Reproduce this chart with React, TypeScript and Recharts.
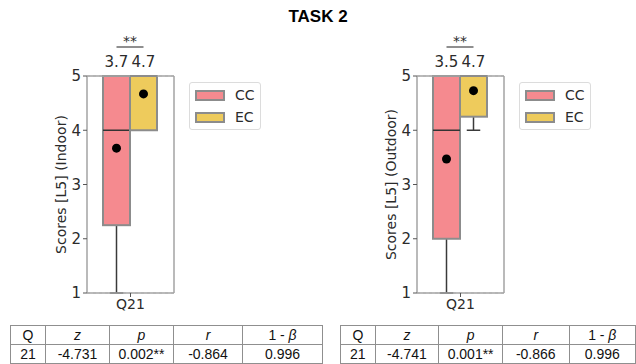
import { ComposedChart, Bar, XAxis, YAxis, CartesianGrid, Legend, LabelList } from 'recharts';

const groups = ['CC', 'EC'];
const groupColors = ['#f58a8f', '#eecb5c'];
const yTicks = [1, 2, 3, 4, 5];
const questionLabel = 'Q21';

// indoor (left panel)
const indoorMin = [1, 4];
const indoorQ1 = [2.25, 4];
const indoorMedian = [4, 5];
const indoorQ3 = [5, 5];
const indoorMax = [5, 5];
const indoorMean = [3.67, 4.67];
const indoorMeanLabels = ['3.7', '4.7'];

// outdoor (right panel)
const outdoorMin = [1, 4];
const outdoorQ1 = [2, 4.25];
const outdoorMedian = [4, 5];
const outdoorQ3 = [5, 5];
const outdoorMax = [5, 5];
const outdoorMean = [3.47, 4.73];
const outdoorMeanLabels = ['3.5', '4.7'];

const tableHeaders = ['Q', 'z', 'p', 'r', '1 - β'];
const indoorStats = ['21', '-4.731', '0.002**', '-0.864', '0.996'];
const outdoorStats = ['21', '-4.741', '0.001**', '-0.866', '0.996'];

const FONT = '"DejaVu Sans", sans-serif';
const TEXT = '#2b2b2b';
const SPINE = '#a3a3a3';

const buildRows = (mins: number[], q1s: number[], meds: number[], q3s: number[], maxs: number[], means: number[], labels: string[]) =>
  groups.map((g, i) => ({
    group: g,
    color: groupColors[i],
    min: mins[i],
    q1: q1s[i],
    median: meds[i],
    q3: q3s[i],
    max: maxs[i],
    mean: means[i],
    meanLabel: labels[i],
  }));

const indoorRows = buildRows(indoorMin, indoorQ1, indoorMedian, indoorQ3, indoorMax, indoorMean, indoorMeanLabels);
const outdoorRows = buildRows(outdoorMin, outdoorQ1, outdoorMedian, outdoorQ3, outdoorMax, outdoorMean, outdoorMeanLabels);

const BoxShape = (props: any) => {
  const { x, y, width, height, payload, index, significance } = props;
  const span = payload.max - payload.min;
  const py = (v: number) => y + (height * (payload.max - v)) / span;
  const cx = x + width / 2;
  const boxTop = py(payload.q3);
  const boxBottom = py(payload.q1);
  return (
    <g>
      <line x1={cx} x2={cx} y1={boxBottom} y2={py(payload.min)} stroke="#3a3a3a" strokeWidth={1.5} />
      <line x1={cx - width / 4} x2={cx + width / 4} y1={py(payload.min)} y2={py(payload.min)} stroke="#3a3a3a" strokeWidth={1.5} />
      <rect x={x} y={boxTop} width={width} height={boxBottom - boxTop} fill={payload.color} stroke="#8c8c8c" strokeWidth={2} />
      <line x1={x} x2={x + width} y1={py(payload.median)} y2={py(payload.median)} stroke="#333" strokeWidth={1.5} />
      <circle cx={cx} cy={py(payload.mean)} r={4.5} fill="#000" />
      {index === 0 && (
        <g>
          <line x1={cx} x2={cx + width} y1={y - 29} y2={y - 29} stroke="#444" strokeWidth={1.2} />
          <text x={cx + width / 2} y={y - 30} textAnchor="middle" fontSize={14} fontFamily={FONT} fill={TEXT}>
            {significance}
          </text>
        </g>
      )}
    </g>
  );
};

// x tick mark + label in the middle of the axis (one question per panel)
const QuestionTick = (props: any) => {
  const { x, y, width } = props.viewBox;
  const cx = x + width / 2;
  return (
    <g>
      <line x1={cx} x2={cx} y1={y} y2={y + 4} stroke="#555" strokeWidth={1} />
      <text x={cx} y={y + 16} textAnchor="middle" fontSize={14} fontFamily={FONT} fill={TEXT}>
        {questionLabel}
      </text>
    </g>
  );
};

const LegendBox = () => (
  <div
    style={{
      border: '1px solid #dcdcdc',
      borderRadius: 3,
      background: '#fff',
      padding: '1px 5px',
      fontFamily: FONT,
      fontSize: 14,
      color: TEXT,
    }}
  >
    {groups.map((g, i) => (
      <div key={g} style={{ display: 'flex', alignItems: 'center', height: 22 }}>
        <span
          style={{
            display: 'inline-block',
            boxSizing: 'border-box',
            width: 30,
            height: 11,
            background: groupColors[i],
            border: '2px solid #8c8c8c',
          }}
        />
        <span style={{ marginLeft: 10 }}>{g}</span>
      </div>
    ))}
  </div>
);

const Panel = ({ rows, yLabel, significance }: { rows: any[]; yLabel: string; significance: string }) => (
  <ComposedChart
    width={300}
    height={312}
    data={rows}
    barCategoryGap={0}
    margin={{ top: 75, right: 125, bottom: 0, left: 0 }}
  >
    <CartesianGrid horizontal vertical={false} stroke="#cfcfcf" strokeDasharray="3 3" />
    <XAxis
      xAxisId="g"
      dataKey="group"
      type="category"
      padding={{ left: 16, right: 17 }}
      height={19}
      tick={false}
      tickLine={false}
      stroke={SPINE}
      axisLine={{ stroke: SPINE, strokeWidth: 1.5 }}
      label={(p: any) => <QuestionTick {...p} />}
    />
    <XAxis
      xAxisId="top"
      dataKey="group"
      type="category"
      orientation="top"
      height={1}
      tick={false}
      tickLine={false}
      stroke={SPINE}
      axisLine={{ stroke: SPINE, strokeWidth: 1.5 }}
    />
    <YAxis
      yAxisId="s"
      type="number"
      domain={[1, 5]}
      ticks={yTicks}
      width={87}
      tickSize={4}
      tickMargin={2}
      stroke={SPINE}
      axisLine={{ stroke: SPINE, strokeWidth: 1.5 }}
      tickLine={{ stroke: '#555' }}
      tick={{ fill: TEXT, fontSize: 15, fontFamily: FONT }}
      label={{
        value: yLabel,
        angle: -90,
        position: 'insideLeft',
        offset: 61,
        style: { textAnchor: 'middle', fill: TEXT, fontSize: 14, fontFamily: FONT },
      }}
    />
    <YAxis
      yAxisId="r"
      orientation="right"
      type="number"
      domain={[1, 5]}
      allowDataOverflow
      width={1}
      tick={false}
      tickLine={false}
      stroke={SPINE}
      axisLine={{ stroke: SPINE, strokeWidth: 1.5 }}
    />
    <Legend
      layout="horizontal"
      align="center"
      verticalAlign="middle"
      content={() => <LegendBox />}
      wrapperStyle={{ left: 189, top: 82, width: 'auto' }}
    />
    <Bar
      xAxisId="g"
      yAxisId="s"
      dataKey={(d: any) => [d.min, d.max]}
      isAnimationActive={false}
      shape={(p: any) => <BoxShape {...p} significance={significance} />}
    >
      <LabelList dataKey="meanLabel" position="top" offset={9} style={{ fill: TEXT, fontSize: 15, fontFamily: FONT }} />
    </Bar>
  </ComposedChart>
);

const StatsTable = ({ values, widths }: { values: string[]; widths: number[] }) => {
  const cell = (w: number, italic: boolean, i: number) => ({
    width: w,
    border: '1px solid #8f8f8f',
    textAlign: 'center' as const,
    padding: 0,
    height: 18,
    lineHeight: '17px',
    fontStyle: italic && i > 0 && i < 4 ? 'italic' : 'normal',
  });
  return (
    <table
      style={{
        borderCollapse: 'collapse',
        fontFamily: '"Liberation Sans", Arial, sans-serif',
        fontSize: 14,
        color: '#111',
        tableLayout: 'fixed',
      }}
    >
      <tbody>
        <tr>
          {tableHeaders.map((h, i) => (
            <td key={h} style={cell(widths[i], true, i)}>
              {i === 4 ? (
                <span>
                  1 - <i>β</i>
                </span>
              ) : (
                h
              )}
            </td>
          ))}
        </tr>
        <tr>
          {values.map((v, i) => (
            <td key={i} style={cell(widths[i], false, i)}>
              {v}
            </td>
          ))}
        </tr>
      </tbody>
    </table>
  );
};

export default function App() {
  return (
    <div style={{ position: 'absolute', left: 0, top: 0, width: 636, height: 364, background: '#fff', overflow: 'hidden' }}>
      <div
        style={{
          position: 'absolute',
          top: 7,
          width: 636,
          textAlign: 'center',
          fontFamily: '"Liberation Sans", Arial, sans-serif',
          fontWeight: 'bold',
          fontSize: 17,
          color: '#000',
        }}
      >
        TASK 2
      </div>
      <div style={{ position: 'absolute', left: 0, top: 0 }}>
        <Panel rows={indoorRows} yLabel="Scores [L5] (Indoor)" significance="**" />
      </div>
      <div style={{ position: 'absolute', left: 330, top: 0 }}>
        <Panel rows={outdoorRows} yLabel="Scores [L5] (Outdoor)" significance="**" />
      </div>
      <div style={{ position: 'absolute', left: 10, top: 325 }}>
        <StatsTable values={indoorStats} widths={[34, 63, 63, 68, 79]} />
      </div>
      <div style={{ position: 'absolute', left: 340, top: 325 }}>
        <StatsTable values={outdoorStats} widths={[34, 63, 63, 66, 66]} />
      </div>
    </div>
  );
}
